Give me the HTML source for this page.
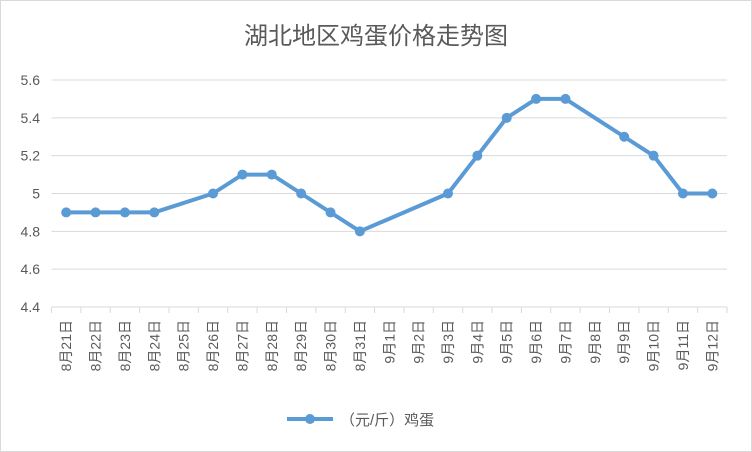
<!DOCTYPE html>
<html><head><meta charset="utf-8"><style>
body{margin:0;background:#fff}
svg{display:block;font-family:"Liberation Sans","Noto Sans CJK SC",sans-serif}
</style></head><body>
<svg width="752" height="452">
<rect x="0.5" y="0.5" width="751" height="451" fill="#fff" stroke="#d9d9d9"/>
<text x="376" y="44" text-anchor="middle" font-size="24" fill="#595959">湖北地区鸡蛋价格走势图</text>
<g id="grid"></g><g id="xaxis"></g><g id="series"></g>
<g>
<line x1="287" y1="419" x2="333" y2="419" stroke="#5b9bd5" stroke-width="4"/>
<circle cx="310" cy="419" r="5" fill="#5b9bd5"/>
<text x="340" y="425" font-size="15" fill="#595959">（元/斤）鸡蛋</text>
</g>
</svg>
<script>
const categories=["8月21日","8月22日","8月23日","8月24日","8月25日","8月26日","8月27日","8月28日","8月29日","8月30日","8月31日","9月1日","9月2日","9月3日","9月4日","9月5日","9月6日","9月7日","9月8日","9月9日","9月10日","9月11日","9月12日"];
const values=[4.9,4.9,4.9,4.9,null,5.0,5.1,5.1,5.0,4.9,4.8,null,null,5.0,5.2,5.4,5.5,5.5,null,5.3,5.2,5.0,5.0];
const yTicks=[4.4,4.6,4.8,5,5.2,5.4,5.6];
const NS="http://www.w3.org/2000/svg";
const x0=51.5,x1=727,yTop=80,yBot=307,yMin=4.4,yMax=5.6;
const bw=(x1-x0)/categories.length;
const xs=i=>x0+bw*(i+0.5);
const ys=v=>yBot-(v-yMin)/(yMax-yMin)*(yBot-yTop);
function mk(t,a,p){const e=document.createElementNS(NS,t);for(const k in a)e.setAttribute(k,a[k]);p.appendChild(e);return e;}
const grid=document.getElementById('grid');
yTicks.forEach(v=>{
 const l=mk('line',{x1:x0,x2:x1,y1:ys(v),y2:ys(v),stroke:'#d9d9d9'},grid);
 
 
 const t=mk('text',{x:40,y:ys(v)+5,'text-anchor':'end','font-size':14,fill:'#595959'},grid);
 t.textContent=String(v);
 
 
});
const xa=document.getElementById('xaxis');
for(let i=0;i<=categories.length;i++){
 const tk=mk('line',{x1:x0+bw*i,x2:x0+bw*i,y1:yBot,y2:yBot+6,stroke:'#d9d9d9'},xa);
 
 
}
categories.forEach((c,i)=>{
 const t=mk('text',{x:0,y:0,'font-size':14,fill:'#595959',transform:`translate(${xs(i)+5},320) rotate(-90)`,'text-anchor':'end'},xa);
 t.textContent=c;
 
 
});
const s=document.getElementById('series');
const pts=[];values.forEach((v,i)=>{if(v!=null)pts.push([xs(i),ys(v)]);});
const pl=mk('polyline',{points:pts.map(p=>p.join(',')).join(' '),fill:'none',stroke:'#5b9bd5','stroke-width':4,'stroke-linejoin':'round'},s);


pts.forEach(p=>{
 const c=mk('circle',{cx:p[0],cy:p[1],r:5,fill:'#5b9bd5'},s);
 
 
});
</script>
</body></html>
